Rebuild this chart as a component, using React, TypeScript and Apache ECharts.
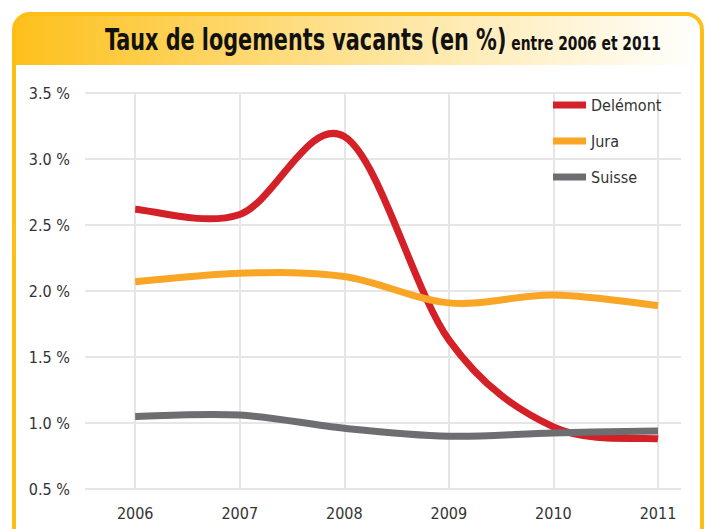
import React, { useEffect, useRef } from "react";
import * as echarts from "echarts";

const years = [2006, 2007, 2008, 2009, 2010, 2011];
const delemont = [2.62, 2.58, 3.17, 1.63, 0.97, 0.88];
const jura = [2.07, 2.135, 2.11, 1.91, 1.97, 1.89];
const suisse = [1.05, 1.06, 0.96, 0.9, 0.925, 0.94];
const seriesNames = ["Delémont", "Jura", "Suisse"];
const seriesColors = ["#D42027", "#F9A526", "#6D6E71"];

const FONT = "'DejaVu Sans Condensed', 'DejaVu Sans', sans-serif";

function splinePath(pts: number[][]): string {
  const n = pts.length;
  let d = `M${pts[0][0]},${pts[0][1]}`;
  for (let i = 0; i < n - 1; i++) {
    const p0 = pts[Math.max(i - 1, 0)];
    const p1 = pts[i];
    const p2 = pts[i + 1];
    const p3 = pts[Math.min(i + 2, n - 1)];
    const c1x = p1[0] + (p2[0] - p0[0]) / 6;
    const c1y = p1[1] + (p2[1] - p0[1]) / 6;
    const c2x = p2[0] - (p3[0] - p1[0]) / 6;
    const c2y = p2[1] - (p3[1] - p1[1]) / 6;
    d += ` C${c1x},${c1y} ${c2x},${c2y} ${p2[0]},${p2[1]}`;
  }
  return d;
}

export default function App() {
  const ref = useRef<HTMLDivElement>(null);
  useEffect(() => {
    const chart = echarts.init(ref.current!, null, { renderer: "svg" });
    const mk = (name: string, vals: number[], color: string) => ({
      name,
      type: "custom",
      coordinateSystem: "cartesian2d",
      data: years.map((y, i) => [y, vals[i]]),
      encode: { x: 0, y: 1 },
      itemStyle: { color },
      z: 3,
      renderItem: (params: any, api: any) => {
        if (params.dataIndex !== 0) return null;
        const pts = years.map((y, i) => api.coord([y, vals[i]]));
        return {
          type: "path",
          shape: { pathData: splinePath(pts) },
          style: { fill: "none", stroke: color, lineWidth: 7, lineJoin: "round" },
        };
      },
    });
    chart.setOption({
      animation: false,
      backgroundColor: "#ffffff",
      color: seriesColors,
      graphic: [
        {
          type: "rect",
          z: 0,
          shape: { x: 14, y: 14, width: 688, height: 51, r: [16, 16, 0, 0] },
          style: {
            fill: new echarts.graphic.LinearGradient(0, 0, 1, 0, [
              { offset: 0, color: "#FDC01C" },
              { offset: 0.45, color: "#FEE08A" },
              { offset: 1, color: "#FFFFFF" },
            ]),
          },
        },
        {
          type: "rect",
          z: 10,
          shape: { x: 14, y: 14, width: 688, height: 540, r: 16 },
          style: { fill: "none", stroke: "#FDBE15", lineWidth: 4 },
        },
        {
          type: "text",
          z: 11,
          x: 105,
          y: 18,
          scaleX: 0.77,
          style: {
            text: "{a|Taux de logements vacants (en %)}{b| entre 2006 et 2011}",
            fill: "#111111",
            rich: {
              a: { fontFamily: FONT, fontWeight: "bold", fontSize: 30, color: "#111111", verticalAlign: "bottom", lineHeight: 36 },
              b: { fontFamily: FONT, fontWeight: "bold", fontSize: 20, color: "#111111", verticalAlign: "bottom", lineHeight: 36, padding: [0, 0, 1, 0] },
            },
          },
        },
      ],
      legend: {
        orient: "vertical",
        left: 548,
        top: 92,
        itemWidth: 33,
        itemHeight: 7,
        itemGap: 20,
        itemTextGap: 10,
        icon: "rect",
        textStyle: { fontFamily: FONT, fontSize: 16, color: "#333333" },
        data: seriesNames,
      },
      grid: { left: 85, right: 28, top: 93, bottom: 40 },
      xAxis: {
        type: "value",
        min: 2005.52,
        max: 2011.22,
        axisLine: { show: false },
        axisTick: { show: false, customValues: years },
        axisLabel: {
          customValues: years,
          fontFamily: FONT,
          fontSize: 16,
          color: "#333333",
          margin: 16,
          formatter: (v: number) => String(v),
        },
        splitLine: { show: true, lineStyle: { color: "#E6E6E6", width: 2 } },
      },
      yAxis: {
        type: "value",
        min: 0.5,
        max: 3.5,
        interval: 0.5,
        axisLine: { show: false },
        axisTick: { show: false },
        axisLabel: {
          fontFamily: FONT,
          fontSize: 16,
          color: "#333333",
          margin: 15,
          formatter: (v: number) => v.toFixed(1) + " %",
        },
        splitLine: { show: true, lineStyle: { color: "#E6E6E6", width: 2 } },
      },
      series: [
        mk(seriesNames[0], delemont, seriesColors[0]),
        mk(seriesNames[1], jura, seriesColors[1]),
        mk(seriesNames[2], suisse, seriesColors[2]),
      ],
    });
    return () => chart.dispose();
  }, []);
  return <div ref={ref} style={{ width: 709, height: 529, position: "absolute", left: 0, top: 0 }} />;
}
